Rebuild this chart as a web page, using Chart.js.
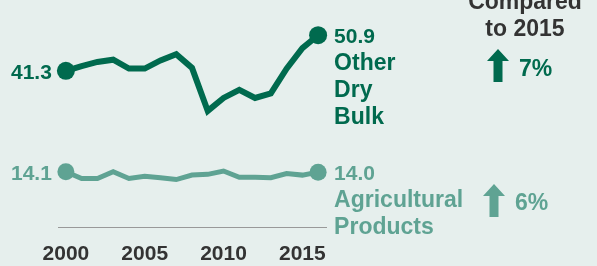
<!DOCTYPE html>
<html>
<head>
<meta charset="utf-8">
<script src="https://cdn.jsdelivr.net/npm/chart.js@4/dist/chart.umd.min.js"></script>
<style>
  html, body { margin: 0; padding: 0; background: #e6efed; }
  #wrap { position: relative; width: 597px; height: 266px; }
</style>
</head>
<body>
<div id="wrap"><canvas id="chart"></canvas></div>
<script>
const years = ['2000','2001','2002','2003','2004','2005','2006','2007','2008','2009','2010','2011','2012','2013','2014','2015','2016']
const yearLabels = ['2000','2005','2010','2015']
const otherDryBulk = [41.3, 42.6, 43.7, 44.3, 41.9, 41.9, 44.1, 45.8, 42.1, 30.5, 34.0, 36.2, 34.0, 35.2, 41.9, 47.4, 50.9]
const agriProducts = [14.1, 12.3, 12.3, 14.1, 12.3, 12.9, 12.5, 12.0, 13.2, 13.4, 14.3, 12.6, 12.6, 12.5, 13.6, 13.2, 14.0]
const seriesNames = [['Other', 'Dry', 'Bulk'], ['Agricultural', 'Products']]
const changeLabels = ['7%', '6%']
const headerLines = ['Compared', 'to 2015']

const DARK = '#006a4e'
const LIGHT = '#5fa393'
const FONT = '"Liberation Sans", Arial, sans-serif'

const endDot = (r) => (ctx) => (ctx.dataIndex === 0 || ctx.dataIndex === years.length - 1) ? r : 0

// labels at both ends of each line + the "compared to 2015" block
const labelsPlugin = {
    id: 'endLabels',
    afterDatasetsDraw(chart){
        const ctx = chart.ctx
        ctx.save()
        chart.data.datasets.forEach((ds, i) => {
            const pts = chart.getDatasetMeta(i).data
            const first = pts[0], last = pts[pts.length - 1]
            ctx.fillStyle = ds.borderColor
            ctx.textBaseline = 'alphabetic'
            ctx.font = `bold 21px ${FONT}`
            ctx.textAlign = 'right'
            ctx.fillText(ds.data[0].toFixed(1), first.x - 14, first.y + 8)
            ctx.textAlign = 'left'
            ctx.fillText(ds.data[ds.data.length - 1].toFixed(1), last.x + 16, last.y + 8)
            ctx.font = `bold 23px ${FONT}`
            seriesNames[i].forEach((line, j) => {
                ctx.fillText(line, last.x + 16, last.y + 8 + 27 * (j + 1))
            })
        })
        ctx.restore()
    },
    afterDraw(chart){
        const ctx = chart.ctx
        ctx.save()
        ctx.fillStyle = '#333333'
        ctx.font = `bold 23px ${FONT}`
        ctx.textAlign = 'center'
        ctx.textBaseline = 'alphabetic'
        ctx.fillText(headerLines[0], 525, 9)
        ctx.fillText(headerLines[1], 525, 36)
        const arrows = [
            {color: DARK, x: 498, top: 49, bottom: 82, text: changeLabels[0], tx: 519, ty: 76},
            {color: LIGHT, x: 494, top: 184, bottom: 217, text: changeLabels[1], tx: 515, ty: 210}
        ]
        arrows.forEach(a => {
            ctx.fillStyle = a.color
            ctx.beginPath()
            ctx.moveTo(a.x, a.top)
            ctx.lineTo(a.x + 11, a.top + 12)
            ctx.lineTo(a.x + 4.5, a.top + 12)
            ctx.lineTo(a.x + 4.5, a.bottom)
            ctx.lineTo(a.x - 4.5, a.bottom)
            ctx.lineTo(a.x - 4.5, a.top + 12)
            ctx.lineTo(a.x - 11, a.top + 12)
            ctx.closePath()
            ctx.fill()
            ctx.font = `bold 23px ${FONT}`
            ctx.textAlign = 'left'
            ctx.fillText(a.text, a.tx, a.ty)
        })
        ctx.restore()
    }
}

new Chart(document.getElementById('chart'), {
    type: 'line',
    data: {
        labels: years,
        datasets: [
            {
                data: otherDryBulk,
                borderColor: DARK,
                backgroundColor: DARK,
                borderWidth: 6,
                pointRadius: endDot(9),
                pointHoverRadius: endDot(9),
                pointBorderWidth: 0,
                tension: 0,
                clip: false
            },
            {
                data: agriProducts,
                borderColor: LIGHT,
                backgroundColor: LIGHT,
                borderWidth: 5,
                pointRadius: endDot(8.5),
                pointHoverRadius: endDot(8.5),
                pointBorderWidth: 0,
                tension: 0,
                clip: false
            }
        ]
    },
    options: {
        responsive: true,
        maintainAspectRatio: false,
        animation: false,
        layout: { padding: { left: 58, right: 271, top: 20, bottom: -15 } },
        plugins: { legend: { display: false }, tooltip: { enabled: false } },
        scales: {
            x: {
                type: 'category',
                offset: true,
                grid: { display: false, drawTicks: false },
                border: { display: true, color: '#999999', width: 1 },
                ticks: {
                    autoSkip: false,
                    maxRotation: 0,
                    padding: 14,
                    color: '#333333',
                    font: { family: FONT, size: 21, weight: 'bold' },
                    callback: function(value){
                        const label = this.getLabelForValue(value)
                        return yearLabels.includes(label) ? label : ''
                    }
                }
            },
            y: {
                display: false,
                min: -1,
                max: 55
            }
        }
    },
    plugins: [labelsPlugin]
})
</script>
</body>
</html>
